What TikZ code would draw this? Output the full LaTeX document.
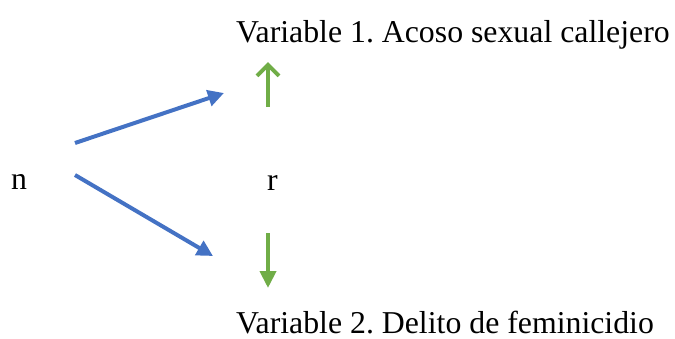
\documentclass[tikz,border=0pt]{standalone}
\usepackage{fontspec}
\setmainfont{Liberation Serif}
\usetikzlibrary{arrows.meta}
\begin{document}
\frenchspacing
\begin{tikzpicture}[x=1pt,y=-1pt,
  lbl/.style={inner sep=0pt,font=\fontsize{31.8}{36}\selectfont},
  blue arrow/.style={draw={rgb,255:red,68;green,114;blue,196},line width=4pt,-{Triangle[length=16pt,width=16pt]}},
  green up/.style={draw={rgb,255:red,112;green,173;blue,71},line width=4pt,-{Straight Barb[length=11pt,width=22pt,line width=4pt]}},
  green down/.style={draw={rgb,255:red,112;green,173;blue,71},line width=4pt,-{Triangle[length=17pt,width=16pt]}}]
\useasboundingbox (0,0) rectangle (675,338);
\node[lbl,anchor=base west] (v1) at (236,42) {Variable 1. Acoso sexual callejero};
\node[lbl,anchor=base west] (v2) at (236,333) {Variable 2. Delito de feminicidio};
\node[lbl,anchor=base west] (n) at (11,189) {n};
\node[lbl,anchor=base west] (r) at (267,190) {r};
\coordinate (a1s) at (75,143);
\coordinate (a1e) at (224,93);
\coordinate (a2s) at (75,175);
\coordinate (a2e) at (213,256);
\coordinate (g1s) at (268,107);
\coordinate (g1e) at (268,62);
\coordinate (g2s) at (268,233);
\coordinate (g2e) at (268,288);
\draw[blue arrow] (a1s) -- (a1e);
\draw[blue arrow] (a2s) -- (a2e);
\draw[green up] (g1s) -- (g1e);
\draw[green down] (g2s) -- (g2e);
\end{tikzpicture}
\end{document}
